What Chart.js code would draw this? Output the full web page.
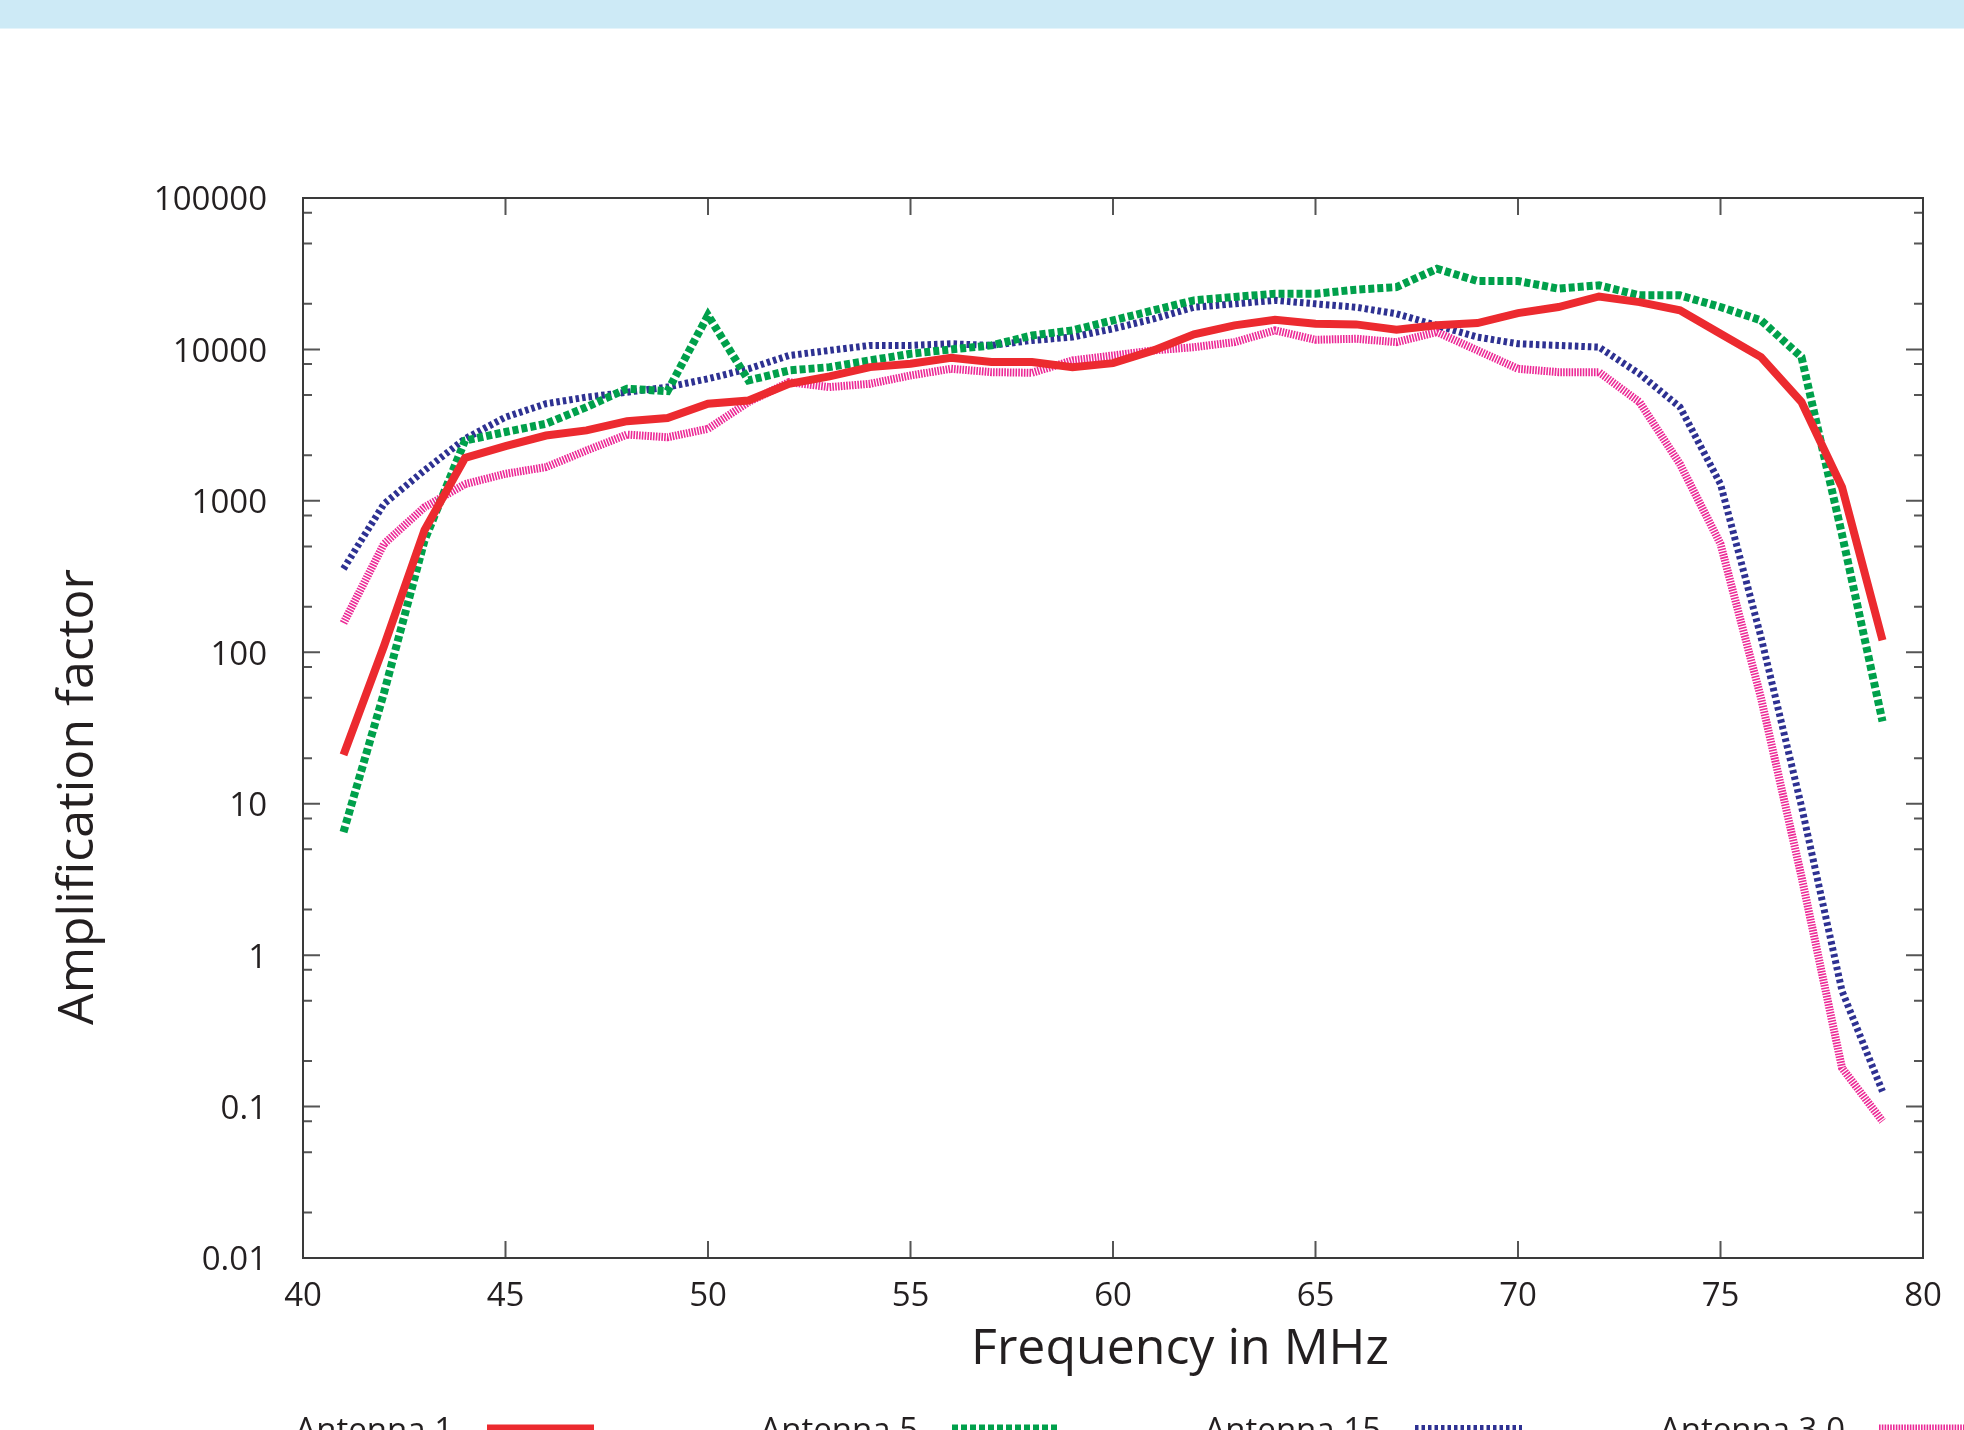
<!DOCTYPE html>
<html>
<head>
<meta charset="utf-8">
<title>Amplification factor vs frequency</title>
<script src="https://cdn.jsdelivr.net/npm/chart.js@4.4.0/dist/chart.umd.min.js"></script>
<style>
  html, body { margin: 0; padding: 0; background: #fff; overflow: hidden; }
  .band { position: absolute; left: 0; top: 0; width: 1964px; height: 28px; background: #cdeaf6; border-bottom: 1px solid #e4f4fb; }
  #chart { position: absolute; left: 0; top: 0; }
</style>
</head>
<body>
<div class="band"></div>
<canvas id="chart" width="1964" height="1470"></canvas>
<script>
// frequencies in MHz
const freqs = [41, 42, 43, 44, 45, 46, 47, 48, 49, 50,
               51, 52, 53, 54, 55, 56, 57, 58, 59, 60,
               61, 62, 63, 64, 65, 66, 67, 68, 69, 70,
               71, 72, 73, 74, 75, 76, 77, 78, 79];

const antenna1 = [21, 110, 640, 1920, 2300, 2700, 2920, 3360, 3520, 4380,
                  4600, 5930, 6640, 7640, 8040, 8810, 8250, 8250, 7640, 8120,
                  9850, 12580, 14420, 15700, 14780, 14630, 13490, 14420, 14930, 17380,
                  19040, 22380, 20540, 18120, 12700, 8900, 4490, 1230, 120];

const antenna5 = [6.5, 54, 547, 2500, 2850, 3230, 4160, 5500, 5300, 16800,
                  6240, 7260, 7640, 8460, 9360, 10000, 10630, 12360, 13360, 15560,
                  18120, 21090, 22190, 23340, 23340, 24800, 25800, 34100, 28300, 28300,
                  25200, 26500, 22750, 22750, 19060, 15560, 8900, 600, 35];

const antenna15 = [356, 955, 1590, 2570, 3570, 4380, 4840, 5220, 5640, 6400,
                   7450, 9120, 9850, 10630, 10630, 10900, 10630, 11470, 12060, 13700,
                   15900, 19000, 20000, 21100, 20000, 19000, 17200, 14400, 12060, 10900,
                   10630, 10350, 6900, 4160, 1290, 126, 9.6, 0.58, 0.126];

const antenna30 = [156, 520, 908, 1290, 1510, 1670, 2150, 2740, 2630, 2990,
                   4490, 6080, 5640, 5930, 6730, 7450, 7080, 7010, 8460, 9120,
                   9850, 10350, 11170, 13360, 11580, 11760, 11170, 13030, 9850, 7450,
                   7080, 7080, 4490, 1750, 520, 50, 3.3, 0.18, 0.08];

const seriesNames = ['Antenna 1', 'Antenna 5', 'Antenna 15', 'Antenna 3.0'];
const xTicks = [40, 45, 50, 55, 60, 65, 70, 75, 80];
const yTicks = [0.01, 0.1, 1, 10, 100, 1000, 10000, 100000];
const yMinorSteps = [2, 5, 8];

const FONT = '"Open Sans", "Liberation Sans", sans-serif';
const INK = '#231f20';

function toPoints(values) {
    return freqs.map((f, i) => ({ x: f, y: values[i] }));
}

// frame, inward ticks, axis titles and the legend row
const framePlugin = {
    id: 'framePlugin',
    beforeDatasetsDraw(chart) {
        const { ctx, chartArea: a, scales } = chart;
        const x = scales.x;
        const y = scales.y;
        ctx.save();
        ctx.strokeStyle = '#555';
        ctx.lineWidth = 2;
        ctx.beginPath();
        xTicks.forEach(v => {
            const px = x.getPixelForValue(v);
            ctx.moveTo(px, a.bottom); ctx.lineTo(px, a.bottom - 17);
            ctx.moveTo(px, a.top); ctx.lineTo(px, a.top + 17);
        });
        yTicks.forEach(v => {
            const py = y.getPixelForValue(v);
            ctx.moveTo(a.left, py); ctx.lineTo(a.left + 17, py);
            ctx.moveTo(a.right, py); ctx.lineTo(a.right - 17, py);
            if (v < 100000) {
                yMinorSteps.forEach(m => {
                    const pm = y.getPixelForValue(v * m);
                    ctx.moveTo(a.left, pm); ctx.lineTo(a.left + 9, pm);
                    ctx.moveTo(a.right, pm); ctx.lineTo(a.right - 9, pm);
                });
            }
        });
        ctx.stroke();
        ctx.strokeStyle = '#3a3a3a';
        ctx.strokeRect(a.left, a.top, a.right - a.left, a.bottom - a.top);
        ctx.restore();
    },
    afterDraw(chart) {
        const ctx = chart.ctx;
        ctx.save();
        ctx.fillStyle = INK;
        ctx.font = '50px ' + FONT;
        ctx.textAlign = 'center';
        ctx.textBaseline = 'alphabetic';
        ctx.fillText('Frequency in MHz', 1180, 1364);

        ctx.translate(93, 797);
        ctx.rotate(-Math.PI / 2);
        ctx.fillText('Amplification factor', 0, 0);
        ctx.restore();

        // legend: label text then a line sample
        const sampleLeft = [487, 952, 1415, 1879];
        ctx.save();
        ctx.font = '33px ' + FONT;
        ctx.fillStyle = INK;
        ctx.textAlign = 'right';
        ctx.textBaseline = 'alphabetic';
        chart.data.datasets.forEach((ds, i) => {
            const sx = sampleLeft[i];
            ctx.fillText(ds.label, sx - 34, 1441);
            ctx.save();
            ctx.strokeStyle = ds.borderColor;
            ctx.lineWidth = ds.borderWidth + 1;
            ctx.setLineDash(ds.borderDash || []);
            ctx.beginPath();
            ctx.moveTo(sx, 1429);
            ctx.lineTo(sx + 107, 1429);
            ctx.stroke();
            ctx.restore();
        });
        ctx.restore();
    }
};

const ctx = document.getElementById('chart').getContext('2d');
new Chart(ctx, {
    type: 'line',
    data: {
        datasets: [
            {
                label: seriesNames[0],
                data: toPoints(antenna1),
                borderColor: '#ec2a2f',
                borderWidth: 8,
                borderJoinStyle: 'miter'
            },
            {
                label: seriesNames[1],
                data: toPoints(antenna5),
                borderColor: '#00a04b',
                borderWidth: 8,
                borderDash: [6, 3]
            },
            {
                label: seriesNames[2],
                data: toPoints(antenna15),
                borderColor: '#2e3192',
                borderWidth: 7,
                borderDash: [3.5, 3]
            },
            {
                label: seriesNames[3],
                data: toPoints(antenna30),
                borderColor: '#ec2a96',
                borderWidth: 8,
                borderDash: [1.6, 1.2]
            }
        ]
    },
    options: {
        responsive: false,
        animation: false,
        devicePixelRatio: 1,
        layout: { padding: { top: 198, right: 41, left: 0, bottom: 0 } },
        elements: {
            point: { radius: 0 },
            line: { tension: 0, borderCapStyle: 'butt', fill: false }
        },
        plugins: {
            legend: { display: false },
            tooltip: { enabled: false }
        },
        scales: {
            x: {
                type: 'linear',
                min: 40,
                max: 80,
                afterBuildTicks: axis => { axis.ticks = xTicks.map(value => ({ value })); },
                afterFit: axis => { axis.height = 1470 - 1258; },
                grid: { display: false, drawTicks: false },
                border: { display: false },
                ticks: {
                    padding: 19,
                    color: INK,
                    font: { family: FONT, size: 33 },
                    maxRotation: 0,
                    callback: v => String(v)
                }
            },
            y: {
                type: 'logarithmic',
                min: 0.01,
                max: 100000,
                afterBuildTicks: axis => { axis.ticks = yTicks.map(value => ({ value })); },
                afterFit: axis => { axis.width = 303; },
                grid: { display: false, drawTicks: false },
                border: { display: false },
                ticks: {
                    padding: 36,
                    labelOffset: 3,
                    color: INK,
                    font: { family: FONT, size: 33 },
                    callback: v => String(v)
                }
            }
        }
    },
    plugins: [framePlugin]
});
</script>
</body>
</html>
